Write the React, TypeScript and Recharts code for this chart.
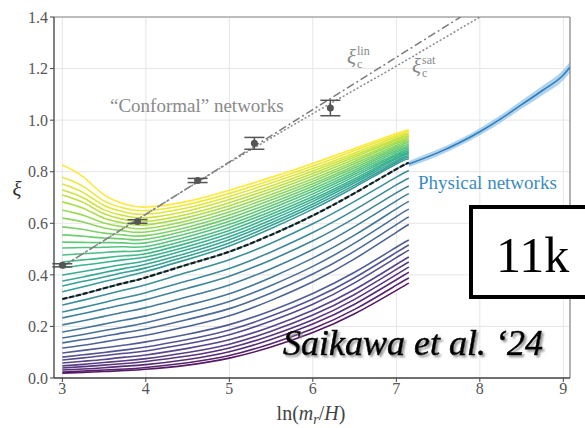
import {
  ComposedChart,
  Line,
  Area,
  Scatter,
  ErrorBar,
  XAxis,
  YAxis,
  CartesianGrid,
  ReferenceLine,
} from 'recharts'

// x grid shared by all "conformal" network curves
const X_GRID = [3, 3.25, 3.5, 3.75, 4, 4.5, 5, 5.5, 6, 6.5, 7, 7.15]

// one row per curve, top (yellow) to bottom (purple)
const CONFORMAL_LINES: number[][] = [
  [0.826, 0.780, 0.710, 0.674, 0.663, 0.685, 0.728, 0.778, 0.832, 0.890, 0.948, 0.963],
  [0.779, 0.743, 0.687, 0.658, 0.649, 0.673, 0.716, 0.767, 0.822, 0.882, 0.941, 0.957],
  [0.752, 0.719, 0.669, 0.643, 0.635, 0.660, 0.704, 0.756, 0.812, 0.873, 0.935, 0.950],
  [0.729, 0.699, 0.652, 0.629, 0.621, 0.648, 0.692, 0.745, 0.803, 0.865, 0.928, 0.944],
  [0.710, 0.681, 0.637, 0.614, 0.607, 0.635, 0.680, 0.734, 0.793, 0.857, 0.922, 0.938],
  [0.683, 0.658, 0.620, 0.600, 0.594, 0.623, 0.668, 0.723, 0.783, 0.848, 0.915, 0.932],
  [0.651, 0.631, 0.601, 0.585, 0.580, 0.610, 0.656, 0.712, 0.773, 0.840, 0.909, 0.925],
  [0.620, 0.605, 0.582, 0.570, 0.566, 0.598, 0.644, 0.701, 0.763, 0.832, 0.902, 0.919],
  [0.586, 0.576, 0.562, 0.554, 0.552, 0.585, 0.632, 0.690, 0.753, 0.823, 0.896, 0.913],
  [0.555, 0.550, 0.543, 0.539, 0.538, 0.573, 0.620, 0.679, 0.744, 0.815, 0.889, 0.906],
  [0.527, 0.526, 0.525, 0.524, 0.524, 0.560, 0.608, 0.668, 0.734, 0.807, 0.882, 0.900],
  [0.504, 0.506, 0.507, 0.509, 0.510, 0.548, 0.596, 0.657, 0.724, 0.798, 0.876, 0.894],
  [0.477, 0.482, 0.487, 0.491, 0.496, 0.535, 0.584, 0.646, 0.714, 0.790, 0.869, 0.888],
  [0.450, 0.458, 0.466, 0.474, 0.482, 0.523, 0.572, 0.635, 0.704, 0.782, 0.863, 0.881],
  [0.427, 0.438, 0.448, 0.459, 0.469, 0.510, 0.560, 0.624, 0.694, 0.773, 0.856, 0.875],
  [0.399, 0.413, 0.427, 0.441, 0.455, 0.498, 0.548, 0.613, 0.685, 0.765, 0.850, 0.869],
  [0.376, 0.392, 0.409, 0.425, 0.441, 0.485, 0.536, 0.602, 0.675, 0.757, 0.843, 0.862],
  [0.357, 0.375, 0.392, 0.410, 0.427, 0.473, 0.524, 0.591, 0.665, 0.748, 0.837, 0.856],
  [0.334, 0.354, 0.374, 0.393, 0.413, 0.460, 0.512, 0.580, 0.655, 0.740, 0.830, 0.850],
  [0.306, 0.326, 0.348, 0.369, 0.390, 0.440, 0.490, 0.555, 0.630, 0.717, 0.810, 0.835],
  [0.283, 0.302, 0.322, 0.342, 0.362, 0.410, 0.459, 0.523, 0.598, 0.685, 0.779, 0.805],
  [0.256, 0.274, 0.293, 0.312, 0.331, 0.377, 0.425, 0.489, 0.564, 0.652, 0.749, 0.775],
  [0.233, 0.250, 0.268, 0.286, 0.304, 0.348, 0.395, 0.458, 0.532, 0.620, 0.718, 0.745],
  [0.206, 0.222, 0.239, 0.256, 0.273, 0.315, 0.361, 0.424, 0.498, 0.587, 0.687, 0.715],
  [0.178, 0.193, 0.209, 0.225, 0.241, 0.282, 0.327, 0.390, 0.465, 0.554, 0.656, 0.685],
  [0.155, 0.169, 0.184, 0.198, 0.214, 0.253, 0.297, 0.359, 0.433, 0.523, 0.626, 0.655],
  [0.136, 0.149, 0.162, 0.176, 0.190, 0.227, 0.269, 0.330, 0.403, 0.492, 0.595, 0.625],
  [0.116, 0.127, 0.140, 0.153, 0.166, 0.200, 0.241, 0.301, 0.373, 0.462, 0.565, 0.595],
  [0.097, 0.107, 0.117, 0.128, 0.140, 0.170, 0.207, 0.261, 0.328, 0.410, 0.507, 0.535],
  [0.081, 0.090, 0.099, 0.109, 0.120, 0.149, 0.186, 0.240, 0.306, 0.389, 0.487, 0.516],
  [0.070, 0.078, 0.087, 0.096, 0.105, 0.133, 0.168, 0.221, 0.286, 0.369, 0.467, 0.496],
  [0.058, 0.065, 0.072, 0.081, 0.089, 0.115, 0.148, 0.199, 0.263, 0.343, 0.440, 0.469],
  [0.047, 0.053, 0.060, 0.067, 0.075, 0.099, 0.131, 0.181, 0.244, 0.324, 0.421, 0.450],
  [0.039, 0.044, 0.050, 0.056, 0.064, 0.085, 0.116, 0.165, 0.226, 0.305, 0.401, 0.430],
  [0.031, 0.035, 0.040, 0.046, 0.052, 0.072, 0.102, 0.149, 0.209, 0.286, 0.381, 0.410],
  [0.023, 0.027, 0.031, 0.035, 0.041, 0.059, 0.087, 0.133, 0.191, 0.266, 0.360, 0.388],
  [0.019, 0.022, 0.025, 0.029, 0.034, 0.050, 0.077, 0.120, 0.176, 0.249, 0.340, 0.368],
]

// black dashed fit
const FIT_Y = [0.306, 0.326, 0.348, 0.369, 0.390, 0.440, 0.490, 0.555, 0.630, 0.717, 0.810, 0.835]

// xi_c^lin and xi_c^sat
const LIN_X = [3, 7.77]
const LIN_Y = [0.432, 1.4]
const SAT_X = [3, 4, 5, 6, 7, 8]
const SAT_Y = [0.432, 0.635, 0.835, 1.025, 1.21, 1.4]

// measured points with error bars
const PTS_X = [3, 3.9, 4.62, 5.3, 6.21]
const PTS_Y = [0.437, 0.607, 0.766, 0.91, 1.047]
const PTS_ERR = [0.006, 0.007, 0.008, 0.023, 0.03]

// physical networks
const PHYS_X = [7.15, 7.5, 8.0, 8.25, 8.5, 8.75, 9.0, 9.08]
const PHYS_Y = [0.83, 0.874, 0.955, 1.005, 1.06, 1.115, 1.175, 1.205]
const PHYS_ERR = [0.012, 0.013, 0.014, 0.015, 0.016, 0.018, 0.02, 0.021]

const X_TICKS = [3, 4, 5, 6, 7, 8, 9]
const Y_TICKS = [0, 0.2, 0.4, 0.6, 0.8, 1.0, 1.2, 1.4]

const VIRIDIS = ['#440154', '#482475', '#414487', '#355f8d', '#2a788e', '#21918c', '#22a884', '#44bf70', '#7ad151', '#bddf26', '#fde725']

function viridis(t: number) {
  const p = Math.max(0, Math.min(1, t)) * (VIRIDIS.length - 1)
  const i = Math.min(Math.floor(p), VIRIDIS.length - 2)
  const f = p - i
  const a = VIRIDIS[i], b = VIRIDIS[i + 1]
  const ch = (h: string, k: number) => parseInt(h.slice(1 + 2 * k, 3 + 2 * k), 16)
  const c = [0, 1, 2].map((k) => Math.round(ch(a, k) + (ch(b, k) - ch(a, k)) * f))
  return `rgb(${c[0]},${c[1]},${c[2]})`
}

const serif = 'Liberation Serif, serif'
const tickStyle = { fontSize: 16, fill: '#555', fontFamily: serif }

const lineData = CONFORMAL_LINES.map((row) => row.map((y, k) => ({ x: X_GRID[k], y })))
const fitData = FIT_Y.map((y, k) => ({ x: X_GRID[k], y }))
const linData = LIN_Y.map((y, k) => ({ x: LIN_X[k], y }))
const satData = SAT_Y.map((y, k) => ({ x: SAT_X[k], y }))
const ptsData = PTS_Y.map((y, k) => ({ x: PTS_X[k], y, err: PTS_ERR[k] }))
const physData = PHYS_Y.map((y, k) => ({ x: PHYS_X[k], y, band: [y - PHYS_ERR[k], y + PHYS_ERR[k]] }))

export default function App() {
  return (
    <div style={{ position: 'absolute', left: 0, top: 0, width: 585, height: 428, background: '#fff' }}>
      <ComposedChart width={585} height={428} margin={{ top: 17, right: 15, left: 10, bottom: 20 }}>
        <CartesianGrid stroke="#e6e6e6" />
        <XAxis
          dataKey="x"
          type="number"
          domain={[2.9, 9.08]}
          allowDataOverflow
          ticks={X_TICKS}
          tick={tickStyle}
          tickSize={4}
          tickMargin={1}
          height={30}
          axisLine={{ stroke: '#444', strokeWidth: 1.3 }}
          tickLine={{ stroke: '#444' }}
        />
        <YAxis
          type="number"
          domain={[0, 1.4]}
          allowDataOverflow
          ticks={Y_TICKS}
          tickFormatter={(v: number) => v.toFixed(1)}
          tick={tickStyle}
          tickSize={4}
          width={44}
          axisLine={{ stroke: '#444', strokeWidth: 1.3 }}
          tickLine={{ stroke: '#444' }}
        />
        <ReferenceLine y={1.4} stroke="#888" strokeWidth={1.2} />
        <ReferenceLine x={9.08} stroke="#888" strokeWidth={1.2} />

        {lineData.map((d, i) => (
          <Line
            key={i}
            data={d}
            dataKey="y"
            type="natural"
            stroke={viridis(1 - i / (CONFORMAL_LINES.length - 1))}
            strokeWidth={1.6}
            strokeOpacity={0.9}
            dot={false}
            isAnimationActive={false}
          />
        ))}
        <Line data={fitData} dataKey="y" type="natural" stroke="#1c1c1c" strokeWidth={2.2} strokeDasharray="5 2" dot={false} isAnimationActive={false} />

        <Line data={linData} dataKey="y" type="linear" stroke="#7a7a7a" strokeWidth={1.5} strokeDasharray="8 3 2 3" dot={false} isAnimationActive={false} />
        <Line data={satData} dataKey="y" type="monotone" stroke="#8a8a8a" strokeWidth={1.5} strokeDasharray="2 2" dot={false} isAnimationActive={false} />

        <Area data={physData} dataKey="band" type="monotone" fill="#8fc0e6" fillOpacity={0.7} stroke="none" isAnimationActive={false} />
        <Line data={physData} dataKey="y" type="monotone" stroke="#2f7fbf" strokeWidth={1.6} dot={false} isAnimationActive={false} />

        <Scatter
          data={ptsData}
          dataKey="y"
          fill="#555"
          isAnimationActive={false}
          shape={(p: any) => <circle cx={p.cx} cy={p.cy} r={3.5} fill="#555" />}
        >
          <ErrorBar dataKey="err" direction="y" width={10} stroke="#555" strokeWidth={1.5} />
        </Scatter>
      </ComposedChart>

      <svg width={585} height={428} style={{ position: 'absolute', left: 0, top: 0, pointerEvents: 'none' }}>
        <defs>
          <filter id="textShadow" x="-5%" y="-20%" width="110%" height="150%">
            <feDropShadow dx="2" dy="2" stdDeviation="1" floodColor="#888" floodOpacity="0.9" />
          </filter>
        </defs>
        <g fontFamily={serif}>
          <text x={17} y={196} fontSize={21} fontStyle="italic" fill="#333" textAnchor="middle">ξ</text>
          <text x={311} y={420} fontSize={20} fill="#444" textAnchor="middle">
            ln(<tspan fontStyle="italic">m</tspan>
            <tspan fontStyle="italic" fontSize={14} dy={4}>r</tspan>
            <tspan dy={-4}>/</tspan>
            <tspan fontStyle="italic">H</tspan>)
          </text>

          <text x={110} y={112} fontSize={19} fill="#8a8a8a">“Conformal” networks</text>

          <text x={347} y={64} fontSize={21} fontStyle="italic" fill="#888">ξ</text>
          <text x={357} y={55} fontSize={12} fill="#888">lin</text>
          <text x={357} y={68} fontSize={12} fill="#888">c</text>

          <text x={412} y={73} fontSize={21} fontStyle="italic" fill="#888">ξ</text>
          <text x={422} y={64} fontSize={12} fill="#888">sat</text>
          <text x={422} y={77} fontSize={12} fill="#888">c</text>

          <text x={418} y={189} fontSize={19} fill="#3b8bc2">Physical networks</text>

          <rect x={471} y={207} width={140} height={90} fill="#fff" stroke="#000" strokeWidth={4} />
          <text x={496} y={272} fontSize={50} fill="#000">11k</text>

          <text x={283} y={355} fontSize={36} fontStyle="italic" fill="#000" stroke="#000" strokeWidth={0.6} filter="url(#textShadow)">Saikawa et al. ‘24</text>
        </g>
      </svg>
    </div>
  )
}
